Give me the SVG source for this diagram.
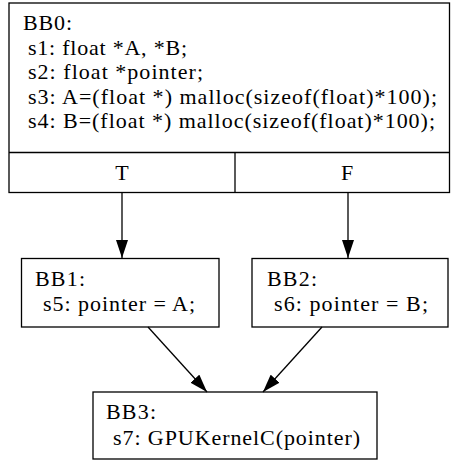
<svg xmlns="http://www.w3.org/2000/svg" width="451" height="462" viewBox="0 0 451 462">
  <style>
    .box { fill: #ffffff; stroke: #000000; stroke-width: 1.3; }
    .sep { stroke: #000000; stroke-width: 1.3; fill: none; }
    .lbl { font-family: "Liberation Serif", "Times New Roman", serif; font-size: 22px; fill: #000000; }
    .mid { text-anchor: middle; }
    .edge { stroke: #000000; stroke-width: 1.3; fill: none; marker-end: url(#arrow); }
  </style>
  <defs>
    <marker id="arrow" markerWidth="18" markerHeight="12" refX="18" refY="6" viewBox="0 0 18 12" markerUnits="userSpaceOnUse" orient="auto">
      <path d="M0,0 L18,6 L0,12 Z" fill="#000000"/>
    </marker>
  </defs>
  <rect width="451" height="462" fill="#ffffff"/>

  <!-- entry block with true/false ports -->
  <g id="BB0">
    <rect class="box" x="9" y="3" width="440.5" height="189.5"/>
    <line class="sep" x1="9" y1="152.5" x2="449.5" y2="152.5"/>
    <line class="sep" x1="235" y1="152.5" x2="235" y2="192.5"/>
    <text class="lbl" x="23" y="30" textLength="49" lengthAdjust="spacing">BB0:</text>
    <text class="lbl" x="28" y="54.5" textLength="159" lengthAdjust="spacing">s1: float *A, *B;</text>
    <text class="lbl" x="28" y="79" textLength="175" lengthAdjust="spacing">s2: float *pointer;</text>
    <text class="lbl" x="28" y="103.5" textLength="409" lengthAdjust="spacing">s3: A=(float *) malloc(sizeof(float)*100);</text>
    <text class="lbl" x="28" y="128" textLength="407" lengthAdjust="spacing">s4: B=(float *) malloc(sizeof(float)*100);</text>
    <text class="lbl mid" x="122" y="180">T</text>
    <text class="lbl mid" x="347" y="180">F</text>
  </g>

  <g id="BB1">
    <rect class="box" x="21.5" y="258.5" width="197.5" height="68.5"/>
    <text class="lbl" x="35" y="286" textLength="50" lengthAdjust="spacing">BB1:</text>
    <text class="lbl" x="43" y="311" textLength="152" lengthAdjust="spacing">s5: pointer = A;</text>
  </g>

  <g id="BB2">
    <rect class="box" x="252" y="258.5" width="196" height="68.5"/>
    <text class="lbl" x="267" y="286" textLength="50" lengthAdjust="spacing">BB2:</text>
    <text class="lbl" x="274" y="311" textLength="154" lengthAdjust="spacing">s6: pointer = B;</text>
  </g>

  <g id="BB3">
    <rect class="box" x="93" y="392" width="284" height="67"/>
    <text class="lbl" x="106" y="419" textLength="50" lengthAdjust="spacing">BB3:</text>
    <text class="lbl" x="113" y="445" textLength="247" lengthAdjust="spacing">s7: GPUKernelC(pointer)</text>
  </g>

  <g id="connectors">
    <line class="edge" x1="122" y1="192.5" x2="122" y2="258"/>
    <line class="edge" x1="348" y1="192.5" x2="348" y2="258"/>
    <line class="edge" x1="148" y1="327" x2="207" y2="392"/>
    <line class="edge" x1="322" y1="327" x2="263" y2="392"/>
  </g>
</svg>
